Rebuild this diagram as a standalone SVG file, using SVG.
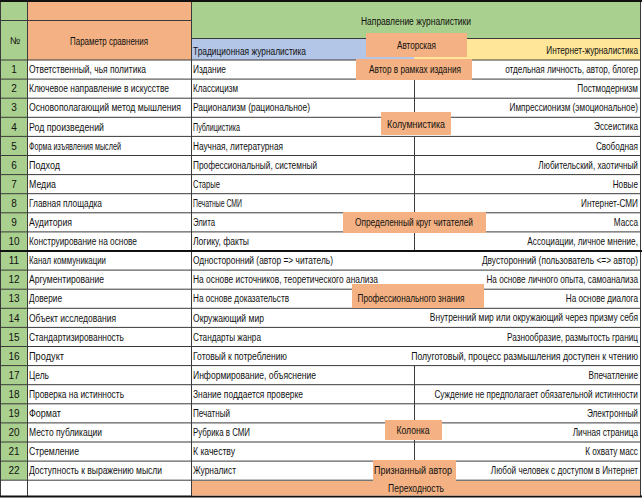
<svg xmlns="http://www.w3.org/2000/svg" width="642" height="498" viewBox="0 0 642 498">
<style>
.t{font-family:"Liberation Sans",Arial,sans-serif;font-size:10px;fill:#111}
.c{text-anchor:middle}
.e{text-anchor:end}
.ln{stroke:#3a3a3a;stroke-width:1;fill:none}
.thk{stroke:#111;stroke-width:2.2;fill:none}
.box{fill:#f4b183}
.g{fill:#a9d08e}
.o{fill:#f4b183}
</style>
<rect x="0" y="0" width="642" height="498" fill="#ffffff"/>
<g id="header">
<rect class="g" x="0" y="0" width="27" height="60"/>
<rect class="o" x="27" y="0" width="164" height="60"/>
<rect class="g" x="191" y="0" width="449" height="38"/>
<rect x="191" y="38" width="223" height="22" fill="#b4c6e7"/>
<rect x="414" y="38" width="226" height="22" fill="#ffe699"/>
<text class="t c" x="15" y="44">№</text>
<text class="t c" x="109" y="45" textLength="78" lengthAdjust="spacingAndGlyphs">Параметр сравнения</text>
<text class="t c" x="416" y="25" textLength="110" lengthAdjust="spacingAndGlyphs">Направление журналистики</text>
<text class="t" x="193" y="54.5" textLength="113" lengthAdjust="spacingAndGlyphs">Традиционная журналистика</text>
<text class="t e" x="778" y="54.5" transform="scale(0.82 1)">Интернет-журналистика</text>
</g>
<g id="numcol">
<rect class="g" x="0" y="60" width="27" height="420"/>
</g>
<g id="grid">
<path class="ln" d="M0 20.5H191 M191 38.5H640 M0 60H640 M0 79.1H640 M0 98.2H640 M0 117.3H640 M0 136.4H640 M0 155.5H640 M0 174.6H640 M0 193.7H640 M0 212.8H640 M0 231.9H640 M0 270.1H640 M0 289.2H640 M0 308.3H640 M0 327.4H640 M0 346.5H640 M0 365.6H640 M0 384.7H640 M0 403.8H640 M0 422.9H640 M0 442H640 M0 461.1H640 M0 480.2H640"/>
<path class="ln" d="M27.5 0V496 M191.5 0V496 M640.5 0V496 M0.5 0V496"/>
<path class="ln" d="M414.5 79.1V117.3 M414.5 136.4V251 M414.5 365.6V461.1"/>
<path class="thk" d="M0 1H642 M0 251H642 M0 496.5H642"/>
</g>
<g id="rows">
<text class="t c" x="14" y="73.2">1</text>
<text class="t c" x="14" y="92.3">2</text>
<text class="t c" x="14" y="111.4">3</text>
<text class="t c" x="14" y="130.5">4</text>
<text class="t c" x="14" y="149.6">5</text>
<text class="t c" x="14" y="168.7">6</text>
<text class="t c" x="14" y="187.8">7</text>
<text class="t c" x="14" y="206.9">8</text>
<text class="t c" x="14" y="226">9</text>
<text class="t c" x="14" y="245.1">10</text>
<text class="t c" x="14" y="264.2">11</text>
<text class="t c" x="14" y="283.3">12</text>
<text class="t c" x="14" y="302.4">13</text>
<text class="t c" x="14" y="321.5">14</text>
<text class="t c" x="14" y="340.6">15</text>
<text class="t c" x="14" y="359.7">16</text>
<text class="t c" x="14" y="378.8">17</text>
<text class="t c" x="14" y="397.9">18</text>
<text class="t c" x="14" y="417">19</text>
<text class="t c" x="14" y="436.1">20</text>
<text class="t c" x="14" y="455.2">21</text>
<text class="t c" x="14" y="474.3">22</text>

<text class="t" x="29" y="73.2" textLength="117" lengthAdjust="spacingAndGlyphs">Ответственный, чья политика</text>
<text class="t" x="29" y="92.3" textLength="140" lengthAdjust="spacingAndGlyphs">Ключевое направление в искусстве</text>
<text class="t" x="29" y="111.4" textLength="152" lengthAdjust="spacingAndGlyphs">Основополагающий метод мышления</text>
<text class="t" x="29" y="130.5" textLength="75" lengthAdjust="spacingAndGlyphs">Род произведений</text>
<text class="t" x="29" y="149.6" textLength="92" lengthAdjust="spacingAndGlyphs">Форма изъявления мыслей</text>
<text class="t" x="29" y="168.7" textLength="31" lengthAdjust="spacingAndGlyphs">Подход</text>
<text class="t" x="29" y="187.8" textLength="27" lengthAdjust="spacingAndGlyphs">Медиа</text>
<text class="t" x="29" y="206.9" textLength="73" lengthAdjust="spacingAndGlyphs">Главная площадка</text>
<text class="t" x="29" y="226" textLength="43" lengthAdjust="spacingAndGlyphs">Аудитория</text>
<text class="t" x="29" y="245.1" textLength="108" lengthAdjust="spacingAndGlyphs">Конструирование на основе</text>
<text class="t" x="29" y="264.2" textLength="77" lengthAdjust="spacingAndGlyphs">Канал коммуникации</text>
<text class="t" x="29" y="283.3" textLength="75" lengthAdjust="spacingAndGlyphs">Аргументирование</text>
<text class="t" x="29" y="302.4" textLength="33" lengthAdjust="spacingAndGlyphs">Доверие</text>
<text class="t" x="29" y="321.5" textLength="87" lengthAdjust="spacingAndGlyphs">Объект исследования</text>
<text class="t" x="29" y="340.6" textLength="95" lengthAdjust="spacingAndGlyphs">Стандартизированность</text>
<text class="t" x="29" y="359.7" textLength="35" lengthAdjust="spacingAndGlyphs">Продукт</text>
<text class="t" x="29" y="378.8" textLength="20" lengthAdjust="spacingAndGlyphs">Цель</text>
<text class="t" x="29" y="397.9" textLength="95" lengthAdjust="spacingAndGlyphs">Проверка на истинность</text>
<text class="t" x="29" y="417" textLength="32" lengthAdjust="spacingAndGlyphs">Формат</text>
<text class="t" x="29" y="436.1" textLength="73" lengthAdjust="spacingAndGlyphs">Место публикации</text>
<text class="t" x="29" y="455.2" textLength="50" lengthAdjust="spacingAndGlyphs">Стремление</text>
<text class="t" x="29" y="474.3" textLength="133" lengthAdjust="spacingAndGlyphs">Доступность к выражению мысли</text>

<text class="t" x="193" y="73.2" textLength="33" lengthAdjust="spacingAndGlyphs">Издание</text>
<text class="t" x="193" y="92.3" textLength="45" lengthAdjust="spacingAndGlyphs">Классицизм</text>
<text class="t" x="193" y="111.4" textLength="117" lengthAdjust="spacingAndGlyphs">Рационализм (рациональное)</text>
<text class="t" x="193" y="130.5" textLength="47" lengthAdjust="spacingAndGlyphs">Публицистика</text>
<text class="t" x="193" y="149.6" textLength="90" lengthAdjust="spacingAndGlyphs">Научная, литературная</text>
<text class="t" x="193" y="168.7" textLength="124" lengthAdjust="spacingAndGlyphs">Профессиональный, системный</text>
<text class="t" x="193" y="187.8" textLength="27" lengthAdjust="spacingAndGlyphs">Старые</text>
<text class="t" x="193" y="206.9" textLength="49" lengthAdjust="spacingAndGlyphs">Печатные СМИ</text>
<text class="t" x="193" y="226" textLength="22" lengthAdjust="spacingAndGlyphs">Элита</text>
<text class="t" x="193" y="245.1" textLength="56" lengthAdjust="spacingAndGlyphs">Логику, факты</text>
<text class="t" x="193" y="264.2" textLength="140" lengthAdjust="spacingAndGlyphs">Односторонний (автор =&gt; читатель)</text>
<text class="t" x="193" y="283.3" textLength="185" lengthAdjust="spacingAndGlyphs">На основе источников, теоретического анализа</text>
<text class="t" x="193" y="302.4" textLength="96" lengthAdjust="spacingAndGlyphs">На основе доказательств</text>
<text class="t" x="193" y="321.5" textLength="71" lengthAdjust="spacingAndGlyphs">Окружающий мир</text>
<text class="t" x="193" y="340.6" textLength="68" lengthAdjust="spacingAndGlyphs">Стандарты жанра</text>
<text class="t" x="193" y="359.7" textLength="94" lengthAdjust="spacingAndGlyphs">Готовый к потреблению</text>
<text class="t" x="193" y="378.8" textLength="123" lengthAdjust="spacingAndGlyphs">Информирование, объяснение</text>
<text class="t" x="193" y="397.9" textLength="110" lengthAdjust="spacingAndGlyphs">Знание поддается проверке</text>
<text class="t" x="193" y="417" textLength="37" lengthAdjust="spacingAndGlyphs">Печатный</text>
<text class="t" x="193" y="436.1" textLength="57" lengthAdjust="spacingAndGlyphs">Рубрика в СМИ</text>
<text class="t" x="193" y="455.2" textLength="42" lengthAdjust="spacingAndGlyphs">К качеству</text>
<text class="t" x="193" y="474.3" textLength="43" lengthAdjust="spacingAndGlyphs">Журналист</text>
</g>
<g id="internet-col" transform="scale(0.82 1)">
<text class="t e" x="778" y="73.2">отдельная личность, автор, блогер</text>
<text class="t e" x="778" y="92.3">Постмодернизм</text>
<text class="t e" x="778" y="111.4">Импрессионизм (эмоциональное)</text>
<text class="t e" x="778" y="130.5">Эссеистика</text>
<text class="t e" x="778" y="149.6">Свободная</text>
<text class="t e" x="778" y="168.7">Любительский, хаотичный</text>
<text class="t e" x="778" y="187.8">Новые</text>
<text class="t e" x="778" y="206.9">Интернет-СМИ</text>
<text class="t e" x="778" y="226">Масса</text>
<text class="t e" x="778" y="245.1">Ассоциации, личное мнение,</text>
<text class="t e" x="778" y="283.3">На основе личного опыта, самоанализа</text>
<text class="t e" x="778" y="302.4">На основе диалога</text>
<text class="t e" x="778" y="340.6">Разнообразие, размытость границ</text>
<text class="t e" x="778" y="378.8">Впечатление</text>
<text class="t e" x="778" y="397.9">Суждение не предполагает обязательной истинности</text>
<text class="t e" x="778" y="417">Электронный</text>
<text class="t e" x="778" y="436.1">Личная страница</text>
<text class="t e" x="778" y="455.2">К охвату масс</text>
<text class="t e" x="778" y="474.3">Любой человек с доступом в Интернет</text>
</g>
<g id="internet-col-wide">
<text class="t e" x="763.2" y="264.2" transform="scale(0.836 1)">Двусторонний (пользователь &lt;=&gt; автор)</text>
<text class="t e" x="756.8" y="321.5" transform="scale(0.843 1)">Внутренний мир или окружающий через призму себя</text>
<text class="t e" x="733.3" y="359.7" transform="scale(0.87 1)">Полуготовый, процесс размышления доступен к чтению</text>
</g>
<g id="box-avtorskaya">
<rect class="box" x="366" y="33" width="101" height="24"/>
<text class="t c" x="416.5" y="48.5" textLength="39" lengthAdjust="spacingAndGlyphs">Авторская</text>
</g>
<g id="box-v-ramkah">
<rect class="box" x="356" y="59" width="116" height="21"/>
<text class="t c" x="415" y="73.2" textLength="92" lengthAdjust="spacingAndGlyphs">Автор в рамках издания</text>
</g>
<g id="box-kolumnistika">
<rect class="box" x="381" y="112" width="70" height="23"/>
<text class="t c" x="416" y="127.5" textLength="58" lengthAdjust="spacingAndGlyphs">Колумнистика</text>
</g>
<g id="box-krug">
<rect class="box" x="343" y="212" width="143" height="21"/>
<text class="t c" x="414" y="226" textLength="118" lengthAdjust="spacingAndGlyphs">Определенный круг читателей</text>
</g>
<g id="box-prof">
<rect class="box" x="352" y="284" width="132" height="24"/>
<text class="t c" x="411" y="301.5" textLength="107" lengthAdjust="spacingAndGlyphs">Профессионального знания</text>
</g>
<g id="box-kolonka">
<rect class="box" x="385" y="420" width="57" height="20"/>
<text class="t c" x="413" y="434" textLength="33" lengthAdjust="spacingAndGlyphs">Колонка</text>
</g>
<g id="box-priznanny">
<rect class="box" x="373" y="460" width="83" height="22"/>
<text class="t c" x="413" y="474.3" textLength="78" lengthAdjust="spacingAndGlyphs">Признанный автор</text>
</g>
<g id="box-perehodnost">
<rect class="box" x="192" y="481" width="448" height="14.5"/>
<text class="t c" x="416" y="492" textLength="56" lengthAdjust="spacingAndGlyphs">Переходность</text>
</g>
</svg>
